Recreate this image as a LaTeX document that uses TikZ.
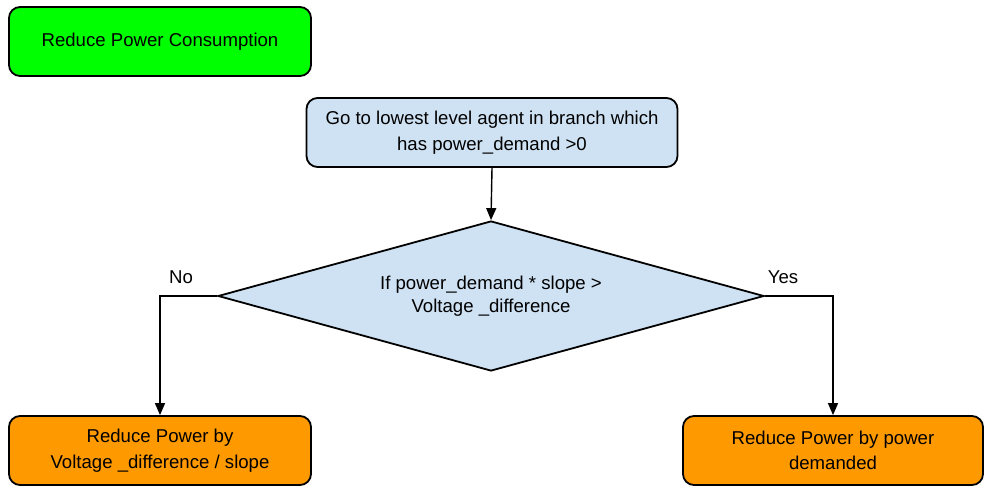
\documentclass[tikz,border=0pt]{standalone}
\usepackage{fontspec}
\setmainfont{Liberation Sans}
\usetikzlibrary{shapes.geometric,arrows.meta}
\definecolor{boxgreen}{HTML}{00FF00}
\definecolor{boxblue}{HTML}{CFE2F3}
\definecolor{boxorange}{HTML}{FF9900}
\tikzset{
  flowbox/.style={draw=black, line width=1.8pt, rounded corners=11pt, minimum width=302pt, minimum height=69pt, align=center, inner sep=0pt, font=\fontsize{18.6}{25.5}\selectfont},
  decbox/.style={diamond, aspect=3.64, draw=black, line width=1.8pt, fill=boxblue, minimum width=546pt, minimum height=150pt, inner sep=0pt, align=center, font=\fontsize{18.6}{23}\selectfont},
  flowarrow/.style={draw=black, line width=1.4pt, -{Triangle[length=12pt,width=10pt]}},
  lbl/.style={font=\fontsize{18.6}{21}\selectfont, inner sep=0pt}
}
\begin{document}
\begin{tikzpicture}[x=1pt,y=-1pt]
\useasboundingbox (0,0) rectangle (992,497);
\node[flowbox, fill=boxgreen] (start) at (160,41.5) {Reduce Power Consumption};
\node[flowbox, fill=boxblue, minimum width=371pt] (go) at (492,132.5) {Go to lowest level agent in branch which\\has power\_demand >0};
\node[decbox] (dec) at (491,296) {If power\_demand * slope >\\Voltage \_difference};
\node[flowbox, fill=boxorange] (left) at (160,450.5) {Reduce Power by\\Voltage \_difference / slope};
\node[flowbox, fill=boxorange, minimum width=300pt] (right) at (833,450.5) {Reduce Power by power\\demanded};
\node[lbl] (no) at (181,277) {No};
\node[lbl] (yes) at (783,277) {Yes};
\draw[flowarrow] (go.south) -- (dec.north);
\draw[flowarrow] (dec.west) -| (left.north);
\draw[flowarrow] (dec.east) -| (right.north);
\end{tikzpicture}
\end{document}
